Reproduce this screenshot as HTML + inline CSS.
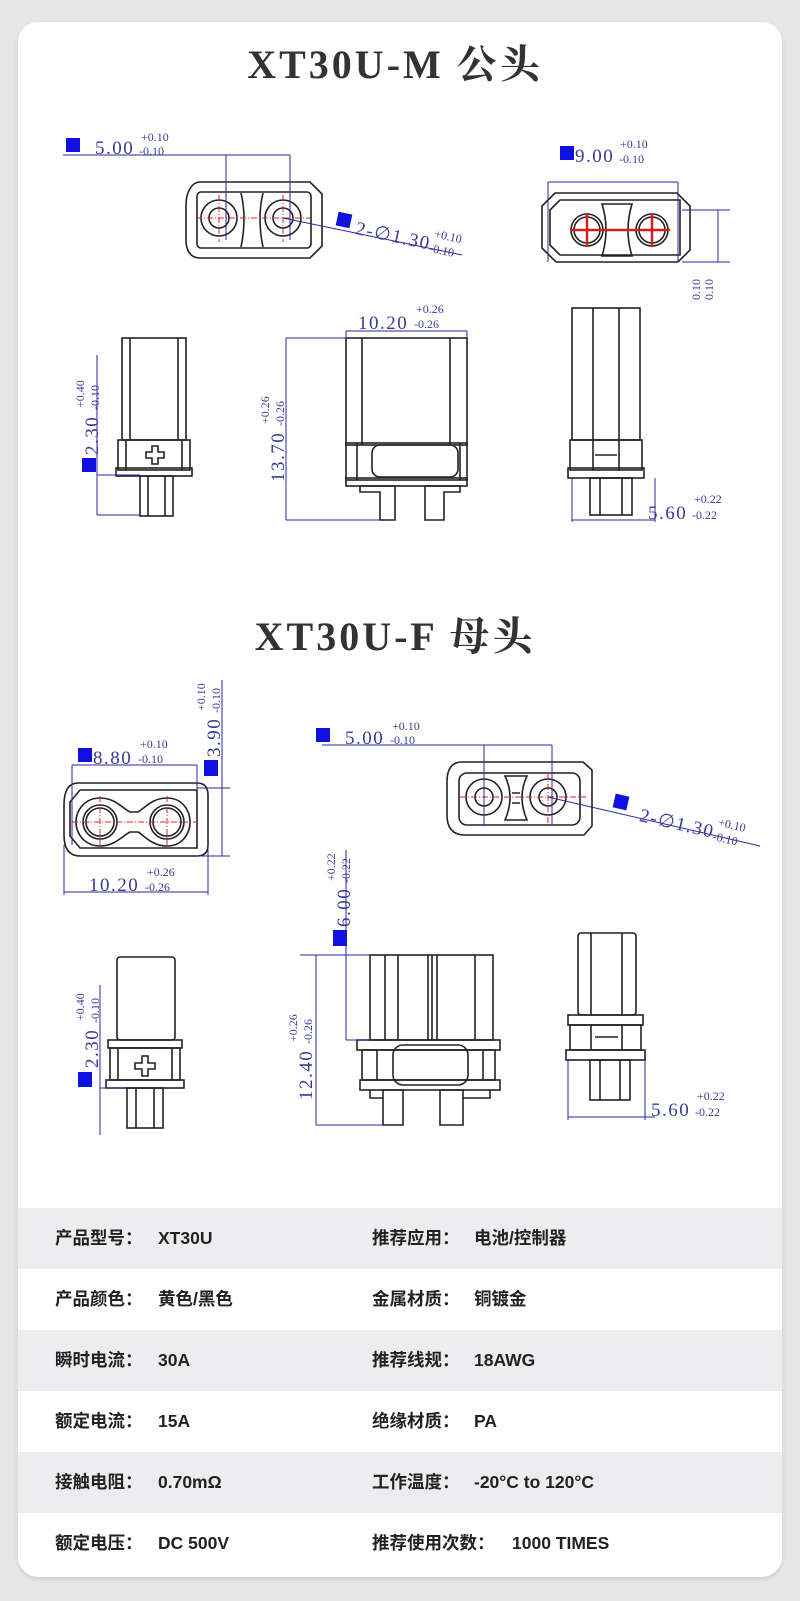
<!DOCTYPE html>
<html><head><meta charset="utf-8">
<style>
html,body{margin:0;padding:0;}
body{width:800px;height:1601px;background:#e6e6e6;position:relative;overflow:hidden;font-family:"Liberation Sans","Noto Sans CJK SC",sans-serif;}
#card{position:absolute;left:18px;top:22px;width:764px;height:1555px;background:#fff;border-radius:20px;overflow:hidden;box-shadow:0 2px 4px rgba(0,0,0,0.12);}
svg{position:absolute;left:0;top:0;}
.row{position:absolute;left:0;width:764px;height:61px;line-height:61px;font-size:17.5px;font-weight:bold;color:#222;}
.row.g{background:#ededf0;}
.row span{position:absolute;top:0;height:61px;line-height:61px;}
.l{left:37px;}.lv{left:140px;}.r{left:354px;}.rv{left:456px;}
</style></head><body>
<div id="card">
<div class="row g" style="top:1186px"><span class="l">产品型号：</span><span class="lv">XT30U</span><span class="r">推荐应用：</span><span class="rv">电池/控制器</span></div>
<div class="row" style="top:1247px"><span class="l">产品颜色：</span><span class="lv">黄色/黑色</span><span class="r">金属材质：</span><span class="rv">铜镀金</span></div>
<div class="row g" style="top:1308px"><span class="l">瞬时电流：</span><span class="lv">30A</span><span class="r">推荐线规：</span><span class="rv">18AWG</span></div>
<div class="row" style="top:1369px"><span class="l">额定电流：</span><span class="lv">15A</span><span class="r">绝缘材质：</span><span class="rv">PA</span></div>
<div class="row g" style="top:1430px"><span class="l">接触电阻：</span><span class="lv">0.70mΩ</span><span class="r">工作温度：</span><span class="rv">-20°C to 120°C</span></div>
<div class="row" style="top:1491px"><span class="l">额定电压：</span><span class="lv">DC 500V</span><span class="r">推荐使用次数：</span><span class="rv" style="left:494px">1000 TIMES</span></div>
</div>
<svg width="800" height="1601" viewBox="0 0 800 1601" xmlns="http://www.w3.org/2000/svg">
<style>
.t{font-family:"Liberation Serif","Noto Serif CJK SC",serif;font-weight:bold;fill:#333;font-size:40px;letter-spacing:3px}
.k{fill:none;stroke:#222;stroke-width:1.6}
.b{fill:none;stroke:#2a2a9a;stroke-width:1}
.rd{fill:none;stroke:#e02020;stroke-width:1;stroke-dasharray:6 2 1 2}
.m{font-family:"Liberation Serif",serif;fill:#3a3a9a;font-size:19px;letter-spacing:1.5px}
.s{font-family:"Liberation Serif",serif;fill:#3a3a9a;font-size:12px}
.q{fill:#1010e0}
</style>
<text class="t" x="395" y="78" text-anchor="middle">XT30U-M 公头</text>
<text class="t" x="395" y="650" text-anchor="middle">XT30U-F 母头</text>

<!-- Male top-left -->
<g>
<path class="k" d="M200 182 H310 L322 194 V246 L310 258 H200 C190 258 186 250 186 240 V205 C186 192 192 182 200 182Z"/>
<rect class="k" x="197" y="192" width="114" height="56" rx="4"/>
<circle class="k" cx="219" cy="218" r="18"/><circle class="k" cx="219" cy="218" r="10"/>
<circle class="k" cx="283" cy="218" r="18"/><circle class="k" cx="283" cy="218" r="10"/>
<path class="k" d="M241 193 Q247 218 241 247 M263 193 Q257 218 263 247"/>
<path class="rd" d="M196 218 H310 M219 195 V242 M283 195 V242"/>
<rect class="q" x="66" y="138" width="14" height="14"/>
<text class="m" x="95" y="154">5.00</text><text class="s" x="141" y="141">+0.10</text><text class="s" x="139" y="155">-0.10</text>
<path class="b" d="M63 155 H290 M226 155 V240 M290 155 V240"/>
<path class="b" d="M283 218 L462 255"/>
<rect class="q" x="337" y="213" width="14" height="14" transform="rotate(12 344 220)"/>
<g transform="rotate(12 356 228)"><text class="m" x="356" y="234">2-∅1.30</text><text class="s" x="434" y="221">+0.10</text><text class="s" x="432" y="236">-0.10</text></g>
</g>

<!-- Male top-right -->
<g>
<path class="k" d="M555 193 H677 L690 206 V250 L678 262 H556 L542 248 V206Z"/>
<path class="k" d="M560 200 H680 V255 H560 L550 245 V210Z"/>
<circle class="k" cx="587" cy="230" r="16"/><circle class="k" cx="587" cy="230" r="13"/>
<circle class="k" cx="652" cy="230" r="16"/><circle class="k" cx="652" cy="230" r="13"/>
<path class="k" d="M602 204 H632 Q624 230 632 256 H602 Q610 230 602 204Z"/>
<path d="M570 230 H670 M587 213 V247 M652 213 V247" stroke="#d02020" stroke-width="2.5"/>
<rect class="q" x="560" y="146" width="14" height="14"/>
<text class="m" x="575" y="162">9.00</text><text class="s" x="620" y="148">+0.10</text><text class="s" x="619" y="163">-0.10</text>
<path class="b" d="M548 182 H678 M548 182 V262 M678 182 V262 M682 210 H730 M682 262 H730 M718 210 V262"/>
<g transform="rotate(-90 700 300)"><text class="s" x="700" y="300">0.10</text><text class="s" x="700" y="313">0.10</text></g>
</g>

<!-- Male side left -->
<g>
<rect class="k" x="122" y="338" width="64" height="102"/>
<path class="k" d="M130 338 V440 M178 338 V440"/>
<rect class="k" x="118" y="440" width="72" height="30"/>
<path class="k" d="M126 440 V470 M182 440 V470"/>
<rect class="k" x="116" y="468" width="76" height="8"/>
<rect class="k" x="140" y="476" width="33" height="40"/>
<path class="k" d="M148 476 V516 M165 476 V516"/>
<path class="k" d="M152 446 H158 V452 H164 V458 H158 V464 H152 V458 H146 V452 H152Z"/>
<path class="b" d="M97 475 H140 M97 515 H140 M97 475 V515 M97 355 V475"/>
<rect class="q" x="82" y="458" width="14" height="14"/>
<g transform="rotate(-90 98 455)"><text class="m" x="98" y="455">2.30</text><text class="s" x="145" y="441">+0.40</text><text class="s" x="143" y="456">-0.10</text></g>
</g>

<!-- Male side middle -->
<g>
<rect class="k" x="346" y="338" width="121" height="107"/>
<path class="k" d="M362 338 V445 M450 338 V445"/>
<rect class="k" x="346" y="443" width="121" height="37"/>
<rect class="k" x="372" y="445" width="86" height="32" rx="8"/>
<path class="k" d="M357 443 V480 M460 443 V480"/>
<rect class="k" x="346" y="478" width="121" height="8"/>
<path class="k" d="M360 486 H395 V520 H380 V492 H360Z M425 486 H460 V492 H444 V520 H425Z"/>
<path class="b" d="M346 331 H467 M346 331 V338 M467 331 V338 M286 338 H346 M286 520 H380 M286 338 V520"/>
<text class="m" x="358" y="329">10.20</text><text class="s" x="416" y="313">+0.26</text><text class="s" x="414" y="328">-0.26</text>
<g transform="rotate(-90 284 482)"><text class="m" x="284" y="482">13.70</text><text class="s" x="342" y="467">+0.26</text><text class="s" x="340" y="482">-0.26</text></g>
</g>

<!-- Male side right -->
<g>
<rect class="k" x="572" y="308" width="68" height="132"/>
<path class="k" d="M593 308 V440 M619 308 V440"/>
<rect class="k" x="570" y="440" width="72" height="30"/>
<path class="k" d="M593 440 V470 M619 440 V470 M595 455 H617"/>
<rect class="k" x="568" y="468" width="76" height="10"/>
<rect class="k" x="590" y="478" width="42" height="37"/>
<path class="k" d="M600 478 V515 M622 478 V515"/>
<path class="b" d="M572 478 V522 M572 520 H655 M655 478 V522"/>
<text class="m" x="648" y="519">5.60</text><text class="s" x="694" y="503">+0.22</text><text class="s" x="692" y="519">-0.22</text>
</g>

<!-- Female top-left -->
<g>
<path class="k" d="M78 783 H197 Q208 783 208 795 V845 Q208 856 197 856 H80 Q64 856 64 835 V805 Q64 783 78 783Z"/>
<path class="k" d="M80 790 H197 V848 H80 L70 836 V802Z"/>
<path class="k" d="M100 798 C115 798 122 808 130 812 H138 C145 808 152 798 167 798 C182 798 190 810 190 822 C190 834 182 846 167 846 C152 846 145 836 138 832 H130 C122 836 115 846 100 846 C85 846 76 834 76 822 C76 810 85 798 100 798Z"/>
<circle class="k" cx="100" cy="822" r="17"/><circle class="k" cx="100" cy="822" r="14"/>
<circle class="k" cx="167" cy="822" r="17"/><circle class="k" cx="167" cy="822" r="14"/>
<path class="rd" d="M72 822 H198 M100 796 V850 M167 796 V850"/>
<path class="b" d="M72 765 H197 M72 765 V845 M197 765 V790 M197 788 H230 M197 856 H230 M222 680 V856 M64 845 V895 M208 845 V895 M64 892 H208"/>
<rect class="q" x="78" y="748" width="14" height="14"/>
<text class="m" x="93" y="764">8.80</text><text class="s" x="140" y="748">+0.10</text><text class="s" x="138" y="763">-0.10</text>
<rect class="q" x="204" y="760" width="14" height="16"/>
<g transform="rotate(-90 220 757)"><text class="m" x="220" y="757">3.90</text><text class="s" x="266" y="742">+0.10</text><text class="s" x="264" y="757">-0.10</text></g>
<text class="m" x="89" y="891">10.20</text><text class="s" x="147" y="876">+0.26</text><text class="s" x="145" y="891">-0.26</text>
</g>

<!-- Female top-right -->
<g>
<path class="k" d="M462 762 H583 L592 770 V826 L584 835 H465 Q447 835 447 815 V782 Q447 762 462 762Z"/>
<rect class="k" x="459" y="773" width="121" height="52" rx="8"/>
<circle class="k" cx="484" cy="797" r="18"/><circle class="k" cx="484" cy="797" r="9"/>
<circle class="k" cx="548" cy="797" r="18"/><circle class="k" cx="548" cy="797" r="9"/>
<path class="k" d="M505 776 H527 Q517 797 527 820 H505 Q515 797 505 776Z M512 793 H520 M512 803 H520"/>
<path class="rd" d="M460 797 H586 M484 773 V825 M548 773 V825"/>
<rect class="q" x="316" y="728" width="14" height="14"/>
<text class="m" x="345" y="744">5.00</text><text class="s" x="392" y="730">+0.10</text><text class="s" x="390" y="744">-0.10</text>
<path class="b" d="M322 745 H552 M484 745 V825 M552 745 V825 M548 797 L760 846"/>
<rect class="q" x="614" y="795" width="14" height="14" transform="rotate(13 621 802)"/>
<g transform="rotate(13 640 815)"><text class="m" x="640" y="821">2-∅1.30</text><text class="s" x="718" y="808">+0.10</text><text class="s" x="716" y="823">-0.10</text></g>
</g>

<!-- Female side left -->
<g>
<rect class="k" x="117" y="957" width="58" height="83" rx="3"/>
<rect class="k" x="108" y="1040" width="74" height="8"/>
<rect class="k" x="110" y="1048" width="70" height="32"/>
<path class="k" d="M118 1048 V1080 M172 1048 V1080"/>
<rect class="k" x="106" y="1080" width="78" height="8"/>
<rect class="k" x="127" y="1088" width="36" height="40"/>
<path class="k" d="M136 1088 V1128 M154 1088 V1128"/>
<path class="k" d="M142 1056 H148 V1063 H155 V1069 H148 V1076 H142 V1069 H135 V1063 H142Z"/>
<path class="b" d="M100 1088 H127 M100 985 V1135"/>
<rect class="q" x="78" y="1072" width="14" height="15"/>
<g transform="rotate(-90 98 1068)"><text class="m" x="98" y="1068">2.30</text><text class="s" x="145" y="1054">+0.40</text><text class="s" x="143" y="1069">-0.10</text></g>
</g>

<!-- Female side middle -->
<g>
<rect class="k" x="370" y="955" width="123" height="85"/>
<path class="k" d="M385 955 V1040 M398 955 V1040 M428 955 V1040 M432 955 V1040 M437 955 V1040 M475 955 V1040"/>
<rect class="k" x="357" y="1040" width="143" height="10"/>
<rect class="k" x="362" y="1050" width="133" height="30"/>
<rect class="k" x="393" y="1045" width="75" height="40" rx="10"/>
<path class="k" d="M377 1050 V1080 M483 1050 V1080"/>
<rect class="k" x="360" y="1080" width="140" height="10"/>
<path class="k" d="M383 1090 H403 V1125 H383Z M440 1090 H463 V1125 H440Z M370 1090 V1098 H383 M463 1098 H490 V1090"/>
<path class="b" d="M346 850 V1040 M346 1040 H370 M300 955 H370 M316 955 V1125 M316 1125 H383"/>
<rect class="q" x="333" y="930" width="14" height="16"/>
<g transform="rotate(-90 350 927)"><text class="m" x="350" y="927">6.00</text><text class="s" x="396" y="912">+0.22</text><text class="s" x="394" y="927">-0.22</text></g>
<g transform="rotate(-90 312 1100)"><text class="m" x="312" y="1100">12.40</text><text class="s" x="370" y="1085">+0.26</text><text class="s" x="368" y="1100">-0.26</text></g>
</g>

<!-- Female side right -->
<g>
<rect class="k" x="578" y="933" width="58" height="82" rx="3"/>
<path class="k" d="M591 933 V1015 M622 933 V1015"/>
<rect class="k" x="568" y="1015" width="75" height="10"/>
<rect class="k" x="570" y="1025" width="71" height="25"/>
<path class="k" d="M591 1025 V1050 M622 1025 V1050 M595 1037 H618"/>
<rect class="k" x="566" y="1050" width="79" height="10"/>
<rect class="k" x="590" y="1060" width="40" height="40"/>
<path class="k" d="M600 1060 V1100 M620 1060 V1100"/>
<path class="b" d="M568 1060 V1120 M568 1117 H655 M645 1060 V1120"/>
<text class="m" x="651" y="1116">5.60</text><text class="s" x="697" y="1100">+0.22</text><text class="s" x="695" y="1116">-0.22</text>
</g>
</svg>
</body></html>
